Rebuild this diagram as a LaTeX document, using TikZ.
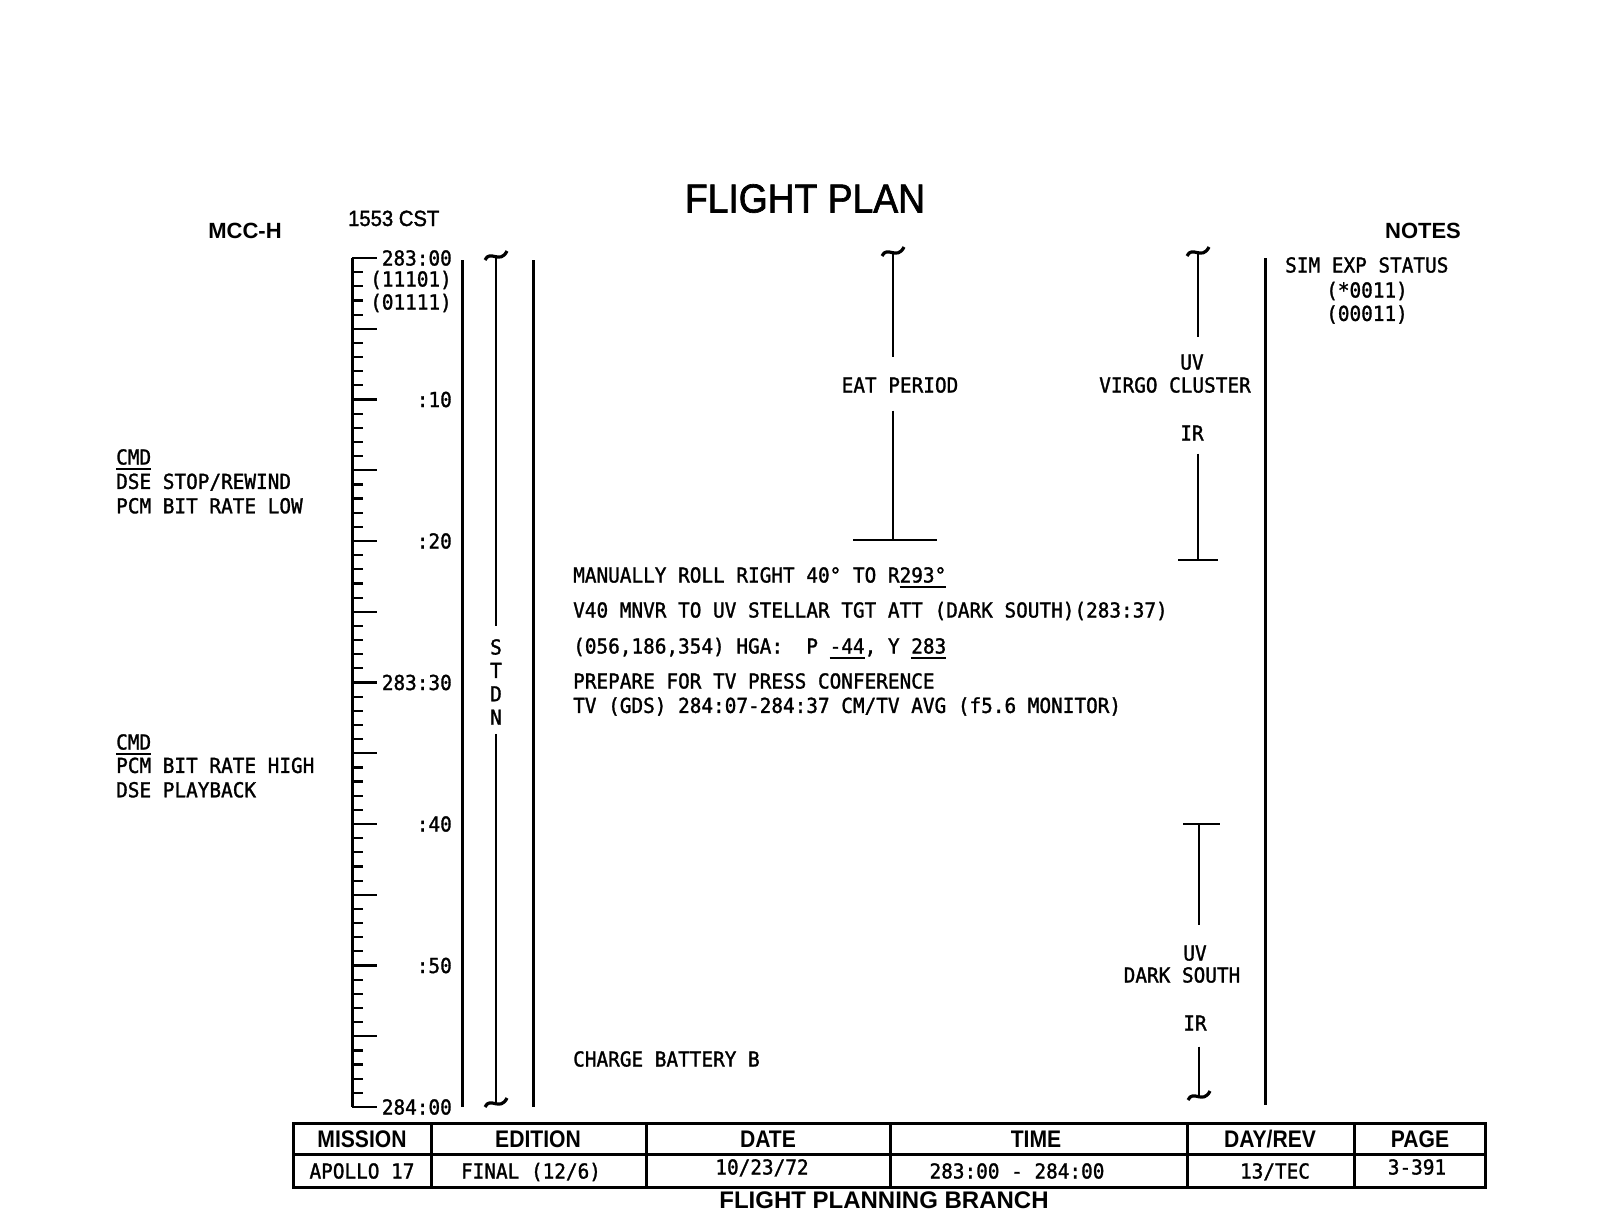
\documentclass[tikz,border=0pt]{standalone}
\usepackage{fontspec}
\newfontfamily\typfont[FakeStretch=0.94,FakeBold=1.4]{DejaVu Sans Mono}
\newfontfamily\hdrfont{Liberation Sans}
\newfontfamily\ttlfont[FakeStretch=0.92,FakeBold=1.6]{Liberation Sans}
\newfontfamily\tblfont[FakeStretch=0.88]{Liberation Sans}
\usepackage{tikz}
\usetikzlibrary{positioning}
\usetikzlibrary{calc}
\tikzstyle{typ}=[font={\typfont\fontsize{20.6}{23}\selectfont},inner sep=0pt,text height=15pt,text depth=0pt]
\tikzstyle{hdr}=[font={\hdrfont\bfseries\fontsize{22}{26}\selectfont},inner sep=0pt,text height=16pt,text depth=0pt]
\tikzstyle{tblhdr}=[font={\tblfont\bfseries\fontsize{24}{28}\selectfont},inner sep=0pt,text height=17pt,text depth=0pt]
\newcommand{\ulbox}[1]{\setbox0\hbox{#1}\rlap{\rule[-5pt]{\wd0}{1.8pt}}\box0}
\newcommand{\tildeend}[1]{\draw[line width=3.2pt] ($(#1)+(-11,3)$) .. controls ($(#1)+(-6,-8)$) and ($(#1)+(4,8)$) .. ($(#1)+(11,-6)$);}

\begin{document}
\begin{tikzpicture}[x=1pt,y=-1pt,
  sepline/.style={line width=3pt},
  colline/.style={line width=2.5pt},
  barline/.style={line width=2pt},
  tickline/.style={line width=2.2pt},
  tbl/.style={line width=3pt}]
\useasboundingbox (0,0) rectangle (1615,1216);

% heading
\node[font={\ttlfont\fontsize{40.5}{44}\selectfont},inner sep=0pt,text height=29pt,text depth=0pt] (title) at (805,198) {FLIGHT PLAN};
\node[hdr] (mcc) at (245,230) {MCC-H};
\node[font={\ttlfont\fontsize{22}{26}\selectfont},inner sep=0pt,text height=16pt,text depth=0pt,anchor=west] (cst) at (348,218) {1553 CST};
\node[hdr] (notes) at (1423,230) {NOTES};

% time ruler
\draw[sepline] (352,258) -- (352,1107);
\foreach \m in {0,...,60}{
  \pgfmathsetmacro{\tl}{mod(\m,5)==0 ? 25 : 11}
  \draw[tickline] (352,{258+14.15*\m}) -- ++(\tl,0);
}
\foreach \m/\lab in {0/283:00,10/:10,20/:20,30/283:30,40/:40,50/:50,60/284:00}
  \node[typ,anchor=east] (tm\m) at (452,{258+14.15*\m}) {\lab};
\node[typ,anchor=east] (bitsA) at (452,279) {(11101)};
\node[typ,anchor=east] (bitsB) at (452,302) {(01111)};

% MCC-H notes
\node[typ,anchor=west] (cmdA) at (116,457) {\ulbox{CMD}};
\node[typ,below=9pt of cmdA.south west,anchor=north west] (dseA) {DSE STOP/REWIND};
\node[typ,below=9pt of dseA.south west,anchor=north west] (pcmA) {PCM BIT RATE LOW};
\node[typ,anchor=west] (cmdB) at (116,742) {\ulbox{CMD}};
\node[typ,below=8pt of cmdB.south west,anchor=north west] (pcmB) {PCM BIT RATE HIGH};
\node[typ,below=9pt of pcmB.south west,anchor=north west] (dseB) {DSE PLAYBACK};

% column lines
\coordinate (sepA) at (462,260);
\coordinate (sepB) at (533,260);
\coordinate (sepC) at (1265,258);
\draw[sepline] (sepA) -- (462,1107);
\draw[sepline] (sepB) -- (533,1107);
\draw[sepline] (sepC) -- (1265,1105);

% STDN
\coordinate (stdtop) at (496,257);
\coordinate (stdbot) at (496,1104);
\node[typ] (sS) at (496,647) {S};
\node[typ,below=8pt of sS] (sT) {T};
\node[typ,below=8pt of sT] (sD) {D};
\node[typ,below=8pt of sD] (sN) {N};
\draw[colline] (stdtop) -- ([yshift=13pt]sS.north);
\draw[colline] ([yshift=-9pt]sN.south) -- (stdbot);
\tildeend{stdtop}
\tildeend{stdbot}

% crew activities
\node[typ,anchor=west] (roll) at (573,575) {MANUALLY ROLL RIGHT 40° TO R\ulbox{293°}};
\node[typ,anchor=west] (mnvr) at (573,610) {V40 MNVR TO UV STELLAR TGT ATT (DARK SOUTH)(283:37)};
\node[typ,anchor=west] (hga) at (573,646) {(056,186,354) HGA:\ \ P \ulbox{-44}, Y \ulbox{283}};
\node[typ,anchor=west] (press) at (573,681) {PREPARE FOR TV PRESS CONFERENCE};
\node[typ,below=9pt of press.south west,anchor=north west] (tvgds) {TV (GDS) 284:07-284:37 CM/TV AVG (f5.6 MONITOR)};
\node[typ,anchor=west] (batt) at (573,1059) {CHARGE BATTERY B};

% eat period
\coordinate (eattop) at (893,253);
\coordinate (eatbot) at (893,540);
\node[typ] (eat) at (900,385) {EAT PERIOD};
\draw[colline] (eattop) -- ($(eat.north -| eattop)+(0,-20)$);
\draw[colline] ($(eat.south -| eattop)+(0,18)$) -- (eatbot);
\draw[barline] ([xshift=-40pt]eatbot) -- ([xshift=44pt]eatbot);
\tildeend{eattop}

% virgo cluster
\coordinate (virtop) at (1198,253);
\coordinate (virbot) at (1198,560);
\node[typ] (uvA) at (1192,362) {UV};
\node[typ] (virgo) at (1175,385) {VIRGO CLUSTER};
\node[typ] (irA) at (1192,433) {IR};
\draw[colline] (virtop) -- ($(uvA.north -| virtop)+(0,-17)$);
\draw[colline] ($(irA.south -| virtop)+(0,13)$) -- (virbot);
\draw[barline] ([xshift=-20pt]virbot) -- ([xshift=20pt]virbot);
\tildeend{virtop}

% dark south
\coordinate (dstop) at (1199,824);
\coordinate (dsbot) at (1199,1097);
\node[typ] (uvB) at (1195,953) {UV};
\node[typ] (dark) at (1182,975) {DARK SOUTH};
\node[typ] (irB) at (1195,1023) {IR};
\draw[barline] ([xshift=-16pt]dstop) -- ([xshift=21pt]dstop);
\draw[colline] (dstop) -- ($(uvB.north -| dstop)+(0,-20)$);
\draw[colline] ($(irB.south -| dstop)+(0,16)$) -- (dsbot);
\tildeend{dsbot}

% notes
\node[typ,anchor=west] (simexp) at (1285,265) {SIM EXP STATUS};
\node[typ,anchor=west] (statA) at (1326,290) {(*0011)};
\node[typ,below=8pt of statA.south west,anchor=north west] (statB) {(00011)};

% title block
\draw[tbl] (293,1123) rectangle (1485,1187);
\draw[tbl] (293,1154) -- (1485,1154);
\foreach \x in {431,646,890,1187,1354}
  \draw[tbl] (\x,1123) -- (\x,1187);
\foreach \x/\h in {362/MISSION,538/EDITION,768/DATE,1036/TIME,1270/{DAY/REV},1420/PAGE}
  \node[tblhdr] (h\x) at (\x,1139) {\h};
\foreach \x/\y/\v in {362/1171/APOLLO 17,531/1171/{FINAL (12/6)},762/1167/{10/23/72},1017/1171/283:00 - 284:00,1275/1171/{13/TEC},1417/1167/3-391}
  \node[typ] (v\x) at (\x,\y) {\v};
\node[font={\hdrfont\bfseries\fontsize{24}{28}\selectfont},inner sep=0pt,text height=17pt,text depth=0pt] (branch) at (884,1200) {FLIGHT PLANNING BRANCH};
\end{tikzpicture}
\end{document}
